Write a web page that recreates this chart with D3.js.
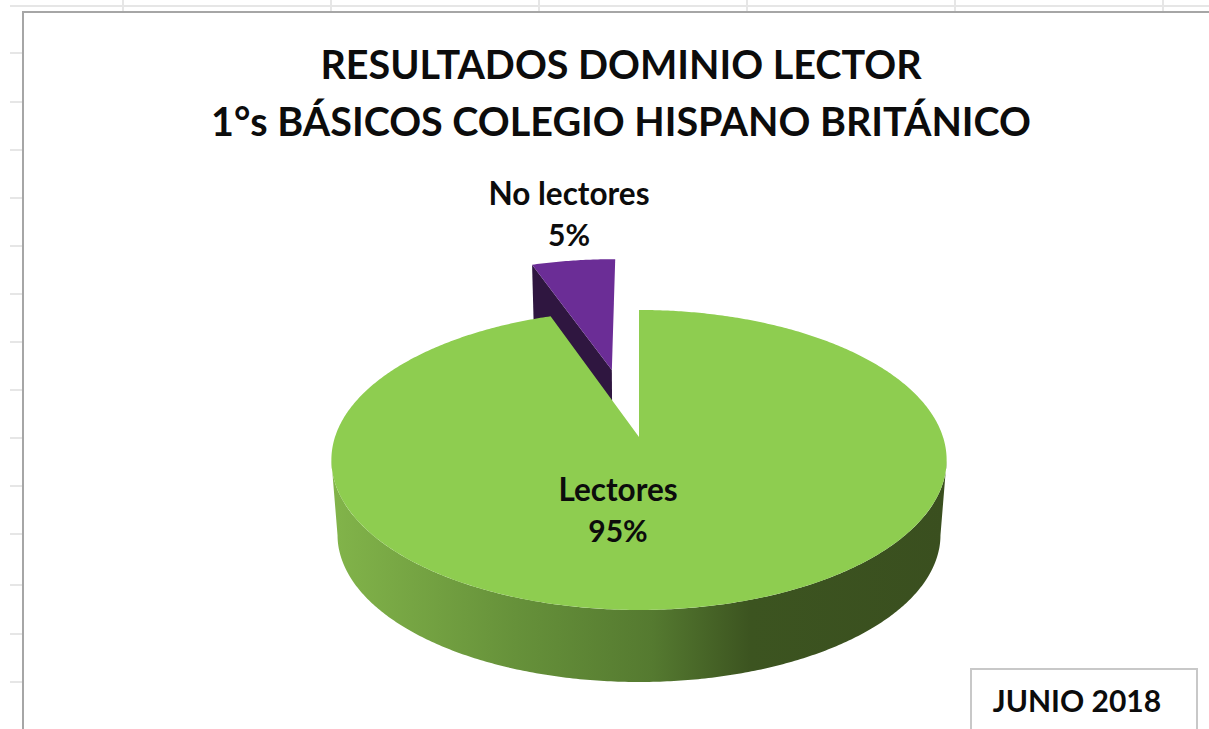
<!DOCTYPE html>
<html>
<head>
<meta charset="utf-8">
<script src="https://cdnjs.cloudflare.com/ajax/libs/d3/7.8.5/d3.min.js"></script>
<style>
	html, body { margin: 0; padding: 0; background: #fff; overflow: hidden; }
	svg { display: block; }
	text { font-family: Lato, sans-serif; font-weight: 700; fill: #0c0c0c; text-anchor: middle; }
</style>
</head>
<body>
<svg id="chart" width="1209" height="729"></svg>
<script>
const categories = ['Lectores', 'No lectores'];
const values = [94.6, 5.4];
const percentLabels = ['95%', '5%'];
const titleLines = ['RESULTADOS DOMINIO LECTOR', '1°s BÁSICOS COLEGIO HISPANO BRITÁNICO'];
const dateLabel = 'JUNIO 2018';
const explode = [0, 0.498];
const explodeNudgeX = [0, -0.012]; // excel does not quite pull along the mid angle

const sheetColumns = [123, 331, 539, 747, 955, 1163];
const sheetRows = [53, 102, 150, 198, 246, 294, 342, 390, 438, 486, 534, 585, 634, 682];

// label anchors, one per category
const labelX = [618, 569];
const labelY = [501, 205];

const svg = d3.select('#chart');
const defs = svg.append('defs');

// camera: perspective on the pie plane, bottom ring a bit smaller and lower
const centerX = 639, topY = 437, bottomY = 512.5;
const radiusX = 304, radiusZ = 146.5, persp = 0.153, bottomScale = 0.98;

function project(x, z, bottom) {
	const s = 1 / (1 + persp * z);
	const k = bottom ? bottomScale : 1;
	return [centerX + radiusX * k * x * s, (bottom ? bottomY : topY) - radiusZ * k * z * s];
}

// polar on the unit disc, angle clockwise from the back
function ringPoint(angle, radius, offset, bottom) {
	return project(offset[0] + radius * Math.sin(angle), offset[1] + radius * Math.cos(angle), bottom);
}

function arcAngles(a0, a1) {
	const n = Math.ceil(Math.abs(a1 - a0) / 0.01);
	return d3.range(n + 1).map(i => a0 + (a1 - a0) * i / n);
}

const line = d3.line();
const slices = d3.pie().sort(null)(values);

slices.forEach((d, i) => {
	const mid = (d.startAngle + d.endAngle) / 2;
	d.offset = [explode[i] * Math.sin(mid) + explodeNudgeX[i], explode[i] * Math.cos(mid)];
});

// spreadsheet behind the chart
const grid = svg.append('g').attr('stroke', '#e6e6e6').attr('stroke-width', 2);
grid.append('line').attr('x1', 10).attr('x2', 1209).attr('y1', 6).attr('y2', 6);
grid.selectAll('.col').data(sheetColumns).join('line')
	.attr('class', 'col')
	.attr('x1', d => d).attr('x2', d => d)
	.attr('y1', 0).attr('y2', 12);
grid.selectAll('.row').data(sheetRows).join('line')
	.attr('class', 'row')
	.attr('x1', 10).attr('x2', 23)
	.attr('y1', d => d).attr('y2', d => d);

// chart frame, runs off the right and bottom of the shot
svg.append('rect')
	.attr('x', 23).attr('y', 12)
	.attr('width', 1300).attr('height', 800)
	.attr('fill', '#fff')
	.attr('stroke', '#a6a6a6')
	.attr('stroke-width', 2);

const wallGradient = defs.append('linearGradient')
	.attr('id', 'wall')
	.attr('gradientUnits', 'userSpaceOnUse')
	.attr('x1', 332).attr('x2', 947)
	.attr('y1', 0).attr('y2', 0);
[[0, '#82b44a'], [0.3, '#66913a'], [0.52, '#557a30'], [0.68, '#3c5420'], [1, '#3a4f1f']].forEach(s => {
	wallGradient.append('stop').attr('offset', s[0]).attr('stop-color', s[1]);
});

// purple slice first, it sits behind the green one
const small = slices[1];
const smallApexTop = project(small.offset[0], small.offset[1], false);
const smallApexBottom = project(small.offset[0], small.offset[1], true);
svg.append('path')
	.attr('d', line([
		smallApexTop,
		ringPoint(small.startAngle, 1, small.offset, false),
		ringPoint(small.startAngle, 1, small.offset, true),
		smallApexBottom
	]) + 'Z')
	.attr('fill', '#2f1640');
svg.append('path')
	.attr('d', line([smallApexTop].concat(
		arcAngles(small.startAngle, small.endAngle).map(a => ringPoint(a, 1, small.offset, false))
	)) + 'Z')
	.attr('fill', '#6b2d96');

// green slice: wall between the silhouette points of the ellipse, then top face
const big = slices[0];
const bigAngles = arcAngles(big.startAngle, big.endAngle);
const frontAngles = arcAngles(Math.PI / 2 + 0.155, 3 * Math.PI / 2 - 0.155);
svg.append('path')
	.attr('d', line(
		frontAngles.map(a => ringPoint(a, 1, big.offset, false))
			.concat(frontAngles.slice().reverse().map(a => ringPoint(a, 1, big.offset, true)))
	) + 'Z')
	.attr('fill', 'url(#wall)');
svg.append('path')
	.attr('d', line([project(big.offset[0], big.offset[1], false)].concat(
		bigAngles.map(a => ringPoint(a, 1, big.offset, false))
	)) + 'Z')
	.attr('fill', '#8ecd50');

// title
svg.selectAll('.title').data(titleLines).join('text')
	.attr('class', 'title')
	.attr('x', 621)
	.attr('y', (d, i) => 79 + i * 57)
	.attr('font-size', 39.5)
	.text(d => d);

// slice labels
categories.forEach((name, i) => {
	svg.append('text').attr('x', labelX[i]).attr('y', labelY[i]).attr('font-size', 31.5).text(name);
	svg.append('text').attr('x', labelX[i]).attr('y', labelY[i] + 41).attr('font-size', 30).text(percentLabels[i]);
});

// date box
svg.append('rect')
	.attr('x', 971).attr('y', 669)
	.attr('width', 226).attr('height', 100)
	.attr('fill', '#fff')
	.attr('stroke', '#c8c8c8')
	.attr('stroke-width', 2);
svg.append('text').attr('x', 1077).attr('y', 712).attr('font-size', 30).text(dateLabel);
</script>
</body>
</html>
